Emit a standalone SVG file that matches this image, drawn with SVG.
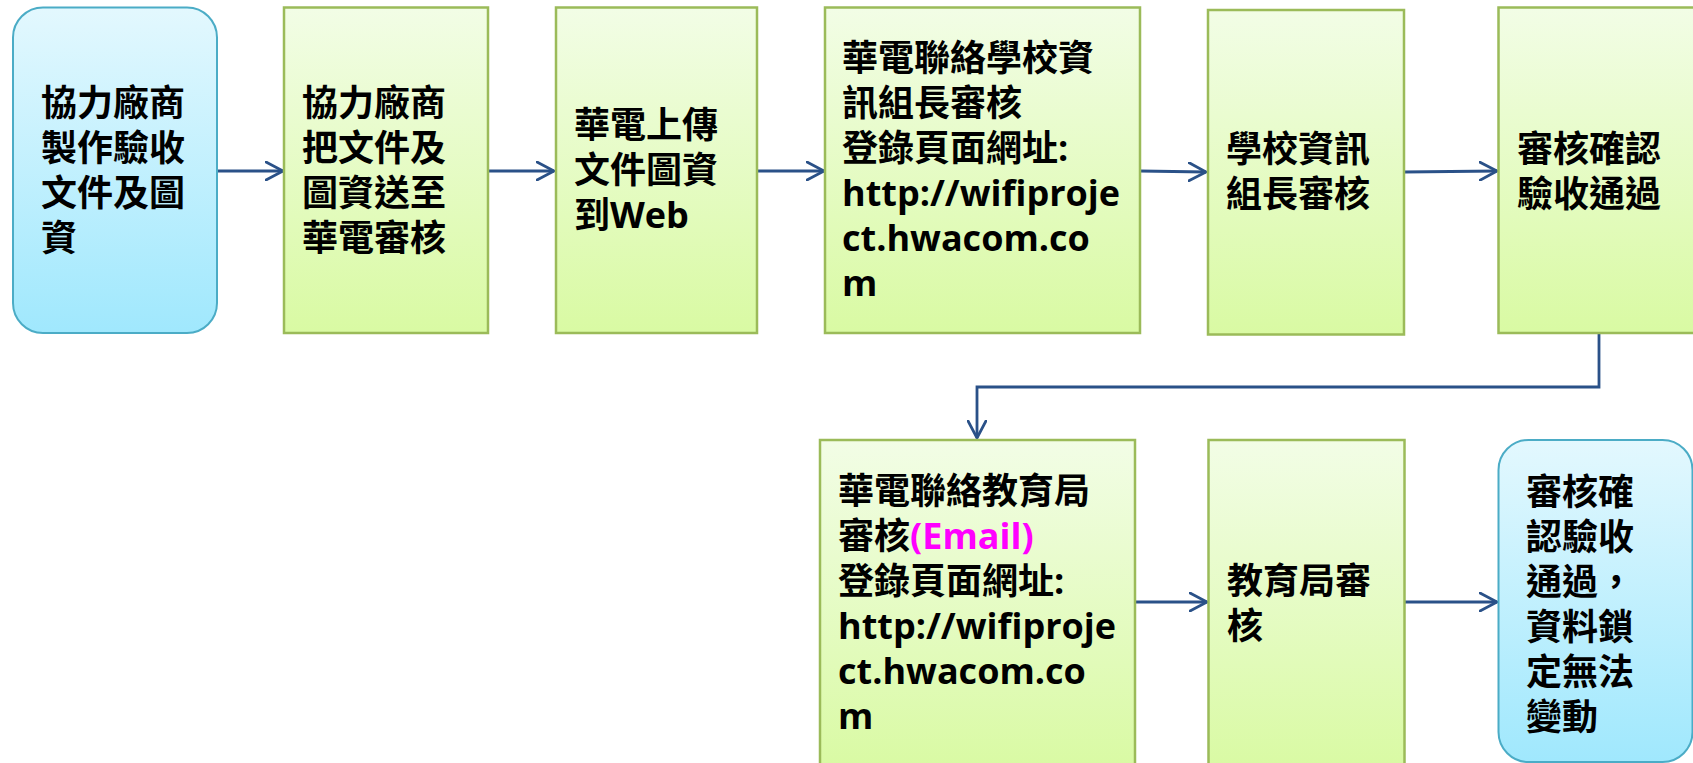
<svg xmlns="http://www.w3.org/2000/svg" width="1693" height="763" viewBox="0 0 1693 763">
<defs>
<linearGradient id="gGreen" x1="0" y1="0" x2="0" y2="1">
<stop offset="0" stop-color="#F2FDE6"/>
<stop offset="1" stop-color="#D9FAA3"/>
</linearGradient>
<linearGradient id="gBlue" x1="0" y1="0" x2="0" y2="1">
<stop offset="0" stop-color="#E3F8FE"/>
<stop offset="1" stop-color="#A0E8FD"/>
</linearGradient>
<marker id="arr" viewBox="0 0 20 20" refX="18" refY="10" markerWidth="20" markerHeight="20" markerUnits="userSpaceOnUse" orient="auto">
<path d="M1,1 L18,10 L1,19" fill="none" stroke="#2A5188" stroke-width="2.8" stroke-linecap="round" stroke-linejoin="miter"/>
</marker>
<style>
.g{fill:url(#gGreen);stroke:#9BBB59;stroke-width:2.5}
.b{fill:url(#gBlue);stroke:#4BACC6;stroke-width:2}
.t{font-family:"Open Sans","Noto Sans CJK TC",sans-serif;font-weight:bold;font-size:36px;fill:#000}
.m{fill:#FF00FF}
.c{fill:none;stroke:#2A5188;stroke-width:2.8;marker-end:url(#arr)}
</style>
</defs>
<g id="connectors">
<path class="c" d="M217,171 L283,171"/>
<path class="c" d="M488,171 L554,171"/>
<path class="c" d="M757,171 L824,171"/>
<path class="c" d="M1140,171 L1206,172"/>
<path class="c" d="M1404,172 L1497,171"/>
<path class="c" d="M1599,333 L1599,387 L977,387 L977,438"/>
<path class="c" d="M1135,602 L1207,602"/>
<path class="c" d="M1404,602 L1497,602"/>
</g>
<g id="n1">
<rect class="b" x="13" y="7.5" width="204" height="325.5" rx="30"/>
<text class="t"><tspan x="41" y="116">協力廠商</tspan><tspan x="41" y="161">製作驗收</tspan><tspan x="41" y="206">文件及圖</tspan><tspan x="41" y="251">資</tspan></text>
</g>
<g id="n2">
<rect class="g" x="284" y="7.5" width="204" height="325.5"/>
<text class="t"><tspan x="302" y="116">協力廠商</tspan><tspan x="302" y="161">把文件及</tspan><tspan x="302" y="206">圖資送至</tspan><tspan x="302" y="251">華電審核</tspan></text>
</g>
<g id="n3">
<rect class="g" x="556" y="7.5" width="201" height="325.5"/>
<text class="t"><tspan x="574" y="138">華電上傳</tspan><tspan x="574" y="183">文件圖資</tspan><tspan x="574" y="228">到Web</tspan></text>
</g>
<g id="n4">
<rect class="g" x="825" y="7.5" width="315" height="325.5"/>
<text class="t"><tspan x="842" y="71">華電聯絡學校資</tspan><tspan x="842" y="116">訊組長審核</tspan><tspan x="842" y="161">登錄頁面網址:</tspan><tspan x="842" y="206">http://wifiproje</tspan><tspan x="842" y="251">ct.hwacom.co</tspan><tspan x="842" y="296">m</tspan></text>
</g>
<g id="n5">
<rect class="g" x="1208" y="10" width="196" height="324.5"/>
<text class="t"><tspan x="1226" y="162">學校資訊</tspan><tspan x="1226" y="207">組長審核</tspan></text>
</g>
<g id="n6">
<rect class="g" x="1498.5" y="7.5" width="202" height="325.5"/>
<text class="t"><tspan x="1517" y="162">審核確認</tspan><tspan x="1517" y="207">驗收通過</tspan></text>
</g>
<g id="n7">
<rect class="g" x="820" y="440" width="315" height="330"/>
<text class="t"><tspan x="838" y="504">華電聯絡教育局</tspan><tspan x="838" y="549">審核<tspan class="m">(Email)</tspan></tspan><tspan x="838" y="594">登錄頁面網址:</tspan><tspan x="838" y="639">http://wifiproje</tspan><tspan x="838" y="684">ct.hwacom.co</tspan><tspan x="838" y="729">m</tspan></text>
</g>
<g id="n8">
<rect class="g" x="1208.5" y="440" width="196" height="330"/>
<text class="t"><tspan x="1227" y="594">教育局審</tspan><tspan x="1227" y="639">核</tspan></text>
</g>
<g id="n9">
<rect class="b" x="1498.5" y="440" width="194" height="322" rx="30"/>
<text class="t"><tspan x="1526" y="505">審核確</tspan><tspan x="1526" y="550">認驗收</tspan><tspan x="1526" y="595">通過，</tspan><tspan x="1526" y="640">資料鎖</tspan><tspan x="1526" y="685">定無法</tspan><tspan x="1526" y="730">變動</tspan></text>
</g>
</svg>
